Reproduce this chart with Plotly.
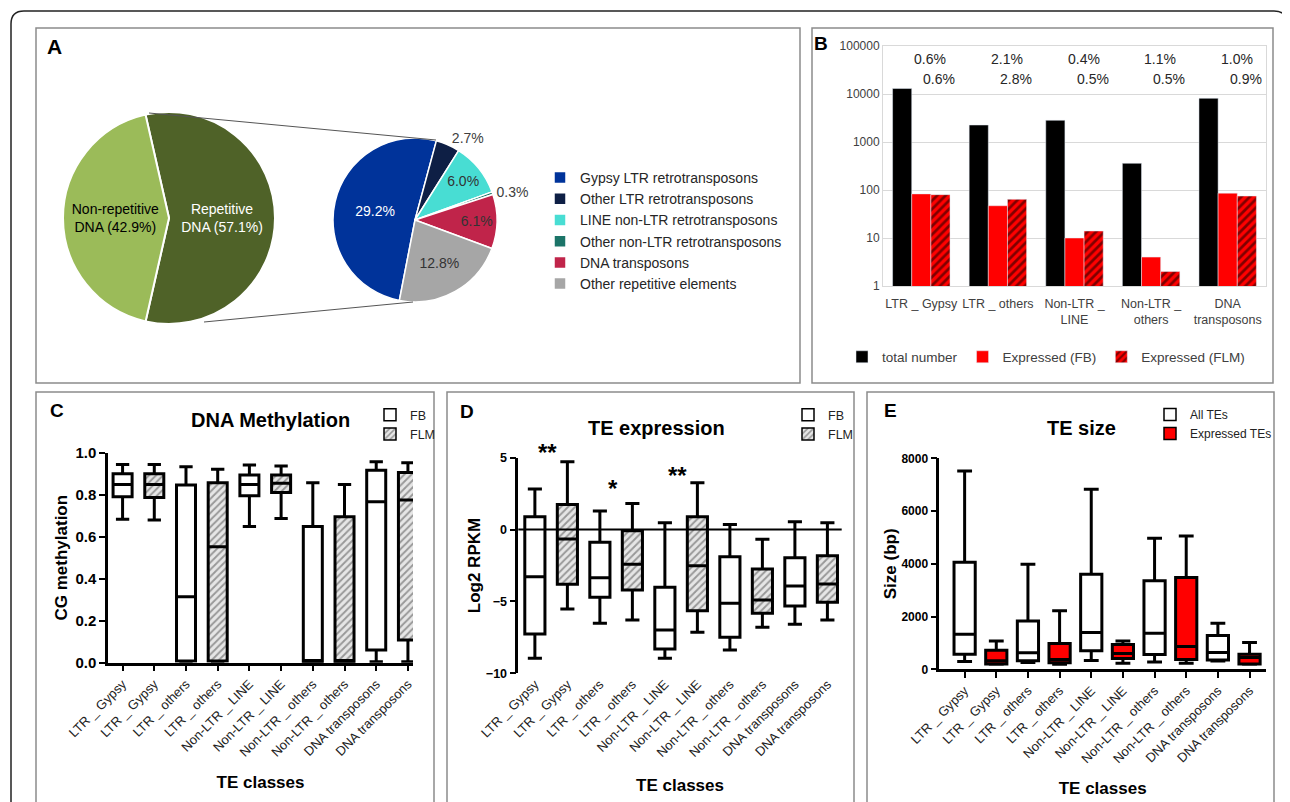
import plotly.graph_objects as go

# The page body adds an 8 px margin, so the figure is drawn 8 px smaller and
# all reference-pixel positions are shifted by that offset.
OFF = 8
W, H = 1290 - OFF, 802 - OFF
def fx(p):
    return (p - OFF) / W
def fy(p):
    return 1 - (p - OFF) / H

FONT = "Liberation Sans, Arial, Helvetica, sans-serif"

# ---------------- Panel A data ----------------
genome_labels = ["Repetitive DNA", "Non-repetitive DNA"]
genome_line1 = ["Repetitive", "Non-repetitive"]
genome_values = [57.1, 42.9]
genome_colors = ["#4F6228", "#9BBB59"]

repeat_labels = ["Gypsy LTR retrotransposons", "Other LTR retrotransposons",
                 "LINE non-LTR retrotransposons", "Other non-LTR retrotransposons",
                 "DNA transposons", "Other repetitive elements"]
repeat_values = [29.2, 2.7, 6.0, 0.3, 6.1, 12.8]
repeat_colors = ["#00339A", "#0E1F45", "#48DDD3", "#1B7468", "#C0244A", "#A6A6A6"]

# ---------------- Panel B data ----------------
b_classes = ["LTR _ Gypsy", "LTR _ others", "Non-LTR _<br>LINE", "Non-LTR _<br>others", "DNA<br>transposons"]
total_number = [13000, 2260, 2830, 360, 8130]
expressed_fb = [83, 47, 10, 4, 86]
expressed_flm = [80, 64, 14, 2, 75]
pct_fb = ["0.6%", "2.1%", "0.4%", "1.1%", "1.0%"]
pct_flm = ["0.6%", "2.8%", "0.5%", "0.5%", "0.9%"]
b_tickvals = [1, 10, 100, 1000, 10000, 100000]
b_ticktext = ["1", "10", "100", "1000", "10000", "100000"]

# ---------------- Panels C-E shared categories ----------------
box_labels = ["LTR _ Gypsy", "LTR _ Gypsy", "LTR _ others", "LTR _ others",
              "Non-LTR _ LINE", "Non-LTR _ LINE", "Non-LTR _ others", "Non-LTR _ others",
              "DNA transposons", "DNA transposons"]
positions = list(range(len(box_labels)))
pos_a = positions[0::2]
pos_b = positions[1::2]

# Panel C: CG methylation (FB / FLM)
meth_fb_lo = [0.683, 0.0, 0.648, 0.0, 0.005]
meth_fb_q1 = [0.790, 0.008, 0.795, 0.005, 0.060]
meth_fb_med = [0.849, 0.314, 0.849, 0.010, 0.767]
meth_fb_q3 = [0.900, 0.846, 0.894, 0.648, 0.917]
meth_fb_hi = [0.944, 0.933, 0.941, 0.857, 0.957]
meth_flm_lo = [0.679, 0.0, 0.687, 0.0, 0.005]
meth_flm_q1 = [0.787, 0.008, 0.811, 0.005, 0.108]
meth_flm_med = [0.849, 0.552, 0.854, 0.010, 0.775]
meth_flm_q3 = [0.900, 0.857, 0.894, 0.695, 0.906]
meth_flm_hi = [0.944, 0.921, 0.937, 0.849, 0.952]

# Panel D: Log2 RPKM (FB / FLM)
expr_fb_lo = [-8.96, -6.52, -8.96, -8.38, -6.59]
expr_fb_q1 = [-7.27, -4.71, -8.31, -7.50, -5.32]
expr_fb_med = [-3.28, -3.35, -6.99, -5.13, -3.93]
expr_fb_q3 = [0.90, -0.89, -4.02, -1.89, -1.96]
expr_fb_hi = [2.82, 1.29, 0.48, 0.36, 0.55]
expr_flm_lo = [-5.53, -6.29, -7.15, -6.80, -6.29]
expr_flm_q1 = [-3.81, -4.20, -5.64, -5.83, -5.06]
expr_flm_med = [-0.66, -2.42, -2.51, -4.90, -3.79]
expr_flm_q3 = [1.75, -0.08, 0.90, -2.74, -1.82]
expr_flm_hi = [4.72, 1.82, 3.26, -0.68, 0.48]
sig_marks = ["**", "*", "**"]
sig_pairs = [0, 1, 2]          # index of the FB/FLM pair
sig_y = [5.35, 2.85, 3.75]

# Panel E: TE size (all / expressed)
size_all_lo = [300, 262, 337, 274, 311]
size_all_q1 = [569, 322, 699, 562, 349]
size_all_med = [1327, 624, 1400, 1365, 637]
size_all_q3 = [4057, 1833, 3602, 3362, 1277]
size_all_hi = [7521, 3982, 6826, 4968, 1744]
size_exp_lo = [190, 190, 225, 225, 190]
size_exp_q1 = [200, 250, 412, 375, 200]
size_exp_med = [322, 375, 600, 860, 450]
size_exp_q3 = [724, 975, 937, 3476, 574]
size_exp_hi = [1074, 2224, 1074, 5056, 1012]

fig = go.Figure()

# ---------------- Panel A ----------------
fig.add_trace(go.Pie(
    labels=genome_labels, values=genome_values,
    text=[f"{a}<br>DNA ({v:.1f}%)" for a, v in zip(genome_line1, genome_values)],
    textinfo="text", textposition="inside", insidetextorientation="horizontal",
    sort=False, direction="clockwise", rotation=-12.8,
    marker=dict(colors=genome_colors, line=dict(color="white", width=2)),
    textfont=dict(size=15, color=["white", "black"], family=FONT),
    domain=dict(x=[fx(63), fx(275)], y=[fy(324), fy(112)]),
    showlegend=False, hoverinfo="label+percent",
))
fig.add_trace(go.Pie(
    labels=repeat_labels, values=repeat_values,
    text=[f"{v:.1f}%" for v in repeat_values],
    textinfo="text",
    textposition=["inside", "outside", "inside", "outside", "inside", "inside"],
    insidetextorientation="horizontal",
    sort=False, direction="clockwise", rotation=191,
    marker=dict(colors=repeat_colors, line=dict(color="white", width=1.5)),
    textfont=dict(size=14, color=["white", "#404040", "#333333", "#404040", "#333333", "#333333"], family=FONT),
    domain=dict(x=[fx(333), fx(497)], y=[fy(302), fy(138)]),
    legend="legend", hoverinfo="label+value",
))

# ---------------- Panel B ----------------
bw = 0.25
fig.add_trace(go.Bar(x=b_classes, y=total_number, name="total number", width=bw, offset=-1.5 * bw,
                     marker=dict(color="black"), xaxis="x", yaxis="y", legend="legend2"))
fig.add_trace(go.Bar(x=b_classes, y=expressed_fb, name="Expressed (FB)", width=bw, offset=-0.5 * bw,
                     marker=dict(color="#FF0000"), xaxis="x", yaxis="y", legend="legend2"))
fig.add_trace(go.Bar(x=b_classes, y=expressed_flm, name="Expressed (FLM)", width=bw, offset=0.5 * bw,
                     marker=dict(color="#FF0000",
                                 pattern=dict(shape="/", fgcolor="black", bgcolor="#FF0000",
                                              size=6, solidity=0.45)),
                     xaxis="x", yaxis="y", legend="legend2"))

# ---------------- Box helper ----------------
def add_box_series(xs, lo, q1, med, q3, hi, name, n, legend, fill, pattern=None, width=0.6):
    xa, ya = f"x{n}", f"y{n}"
    fig.add_trace(go.Bar(
        x=xs, y=[b - a for a, b in zip(q1, q3)], base=q1, width=width, name=name,
        marker=dict(color=fill, pattern=pattern if pattern else dict(shape=""),
                    line=dict(color="black", width=1.5)),
        xaxis=xa, yaxis=ya, legend=legend, hoverinfo="skip"))
    fig.add_trace(go.Box(
        x=xs, q1=q1, median=med, q3=q3, lowerfence=lo, upperfence=hi,
        width=width, whiskerwidth=0.7, fillcolor="rgba(0,0,0,0)",
        line=dict(color="black", width=3), boxpoints=False, showlegend=False,
        xaxis=xa, yaxis=ya, name=name))

hatch = dict(shape="/", fgcolor="#4A4A4A", bgcolor="#E6E6E6", size=5, solidity=0.38)

# Panel C
add_box_series(pos_a, meth_fb_lo, meth_fb_q1, meth_fb_med, meth_fb_q3, meth_fb_hi, "FB", 2, "legend3", "white")
add_box_series(pos_b, meth_flm_lo, meth_flm_q1, meth_flm_med, meth_flm_q3, meth_flm_hi, "FLM", 2, "legend3", "#E6E6E6", hatch)
# Panel D
add_box_series(pos_a, expr_fb_lo, expr_fb_q1, expr_fb_med, expr_fb_q3, expr_fb_hi, "FB", 3, "legend4", "white", width=0.62)
add_box_series(pos_b, expr_flm_lo, expr_flm_q1, expr_flm_med, expr_flm_q3, expr_flm_hi, "FLM", 3, "legend4", "#E6E6E6", hatch, width=0.62)
# Panel E
add_box_series(pos_a, size_all_lo, size_all_q1, size_all_med, size_all_q3, size_all_hi, "All TEs", 4, "legend5", "white", width=0.67)
add_box_series(pos_b, size_exp_lo, size_exp_q1, size_exp_med, size_exp_q3, size_exp_hi, "Expressed TEs", 4, "legend5", "#FF0000", width=0.67)

# ---------------- Axes ----------------
gray_txt = "#404040"
box_x_common = dict(tickvals=positions, ticktext=box_labels, tickangle=-45,
                    tickfont=dict(size=13, color="#222222", family=FONT),
                    showgrid=False, zeroline=False)
ttl_font = dict(size=17, color="black", family=FONT, weight="bold")

D_DOM = [fy(673.3), fy(457.7)]
D_RANGE = [-10, 5]

layout = dict(
    width=W, height=H, margin=dict(l=0, r=0, t=0, b=0, autoexpand=False),
    paper_bgcolor="white", plot_bgcolor="white",
    font=dict(family=FONT, color="black"),
    barmode="overlay",
    uniformtext=dict(minsize=14, mode="show"),
    xaxis=dict(domain=[fx(883), fx(1266)], anchor="y", type="category",
               showline=True, mirror=True, linecolor="#D9D9D9", linewidth=1,
               ticks="", tickangle=0, tickfont=dict(size=12.5, color=gray_txt), ticklabelstandoff=6,
               showgrid=False, zeroline=False),
    yaxis=dict(domain=[fy(286), fy(46)], anchor="x", type="log", range=[0, 5],
               tickvals=b_tickvals, ticktext=b_ticktext,
               showgrid=True, gridcolor="#D9D9D9", gridwidth=1,
               showline=True, mirror=True, linecolor="#D9D9D9", linewidth=1,
               ticks="", tickfont=dict(size=12, color=gray_txt), zeroline=False),
    xaxis2=dict(domain=[fx(108), fx(413)], anchor="y2", range=[-0.46, 9.16],
                ticks="outside", ticklen=6, tickwidth=2, tickcolor="black",
                showline=True, linecolor="black", linewidth=2.5,
                title=dict(text="TE classes", font=ttl_font, standoff=18), **box_x_common),
    yaxis2=dict(domain=[fy(662.7), fy(452.7)], anchor="x2", range=[0, 1], dtick=0.2, tickformat=".1f",
                ticks="outside", ticklen=6, tickwidth=2, tickcolor="black",
                showline=True, linecolor="black", linewidth=2.5, showgrid=False, zeroline=False,
                tickfont=dict(size=15, color="black", family=FONT, weight="bold"),
                title=dict(text="CG methylation", font=ttl_font, standoff=4)),
    xaxis3=dict(domain=[fx(518.3), fx(841.7)], anchor="y3", range=[-0.51, 9.44],
                ticks="", showline=False,
                title=dict(text="TE classes", font=ttl_font, standoff=20), **box_x_common),
    yaxis3=dict(domain=D_DOM, anchor="x3", range=D_RANGE, tickvals=[-10, -5, 0, 5],
                ticks="outside", ticklen=6, tickwidth=2, tickcolor="black",
                showline=True, linecolor="black", linewidth=2.5, showgrid=False, zeroline=False,
                tickfont=dict(size=12.5, color="black", family=FONT, weight="bold"),
                title=dict(text="Log2 RPKM", font=ttl_font, standoff=1)),
    xaxis4=dict(domain=[fx(939.3), fx(1266)], anchor="y4", range=[-0.8, 9.52],
                ticks="outside", ticklen=6, tickwidth=2, tickcolor="black",
                showline=True, linecolor="black", linewidth=2.5,
                title=dict(text="TE classes", font=ttl_font, standoff=17), **box_x_common),
    yaxis4=dict(domain=[fy(669.3), fy(458.3)], anchor="x4", range=[0, 8000], dtick=2000,
                ticks="outside", ticklen=6, tickwidth=2, tickcolor="black",
                showline=True, linecolor="black", linewidth=2.5, showgrid=False, zeroline=False,
                tickfont=dict(size=12, color="black", family=FONT, weight="bold"),
                title=dict(text="Size (bp)", font=ttl_font, standoff=1)),
    legend=dict(x=fx(540), y=fy(231), xanchor="left", yanchor="middle", itemwidth=30,
                font=dict(size=14, color="#262626"), bgcolor="rgba(0,0,0,0)", traceorder="normal"),
    legend2=dict(orientation="h", x=fx(842), y=fy(357), xanchor="left", yanchor="middle", itemwidth=30,
                 font=dict(size=13.5, color=gray_txt), bgcolor="rgba(0,0,0,0)"),
    legend3=dict(x=fx(370), y=fy(400), xanchor="left", yanchor="top", itemwidth=30,
                 font=dict(size=12.5, color="#222222"), bgcolor="rgba(0,0,0,0)", traceorder="normal"),
    legend4=dict(x=fx(788), y=fy(400), xanchor="left", yanchor="top", itemwidth=30,
                 font=dict(size=12.5, color="#222222"), bgcolor="rgba(0,0,0,0)", traceorder="normal"),
    legend5=dict(x=fx(1150), y=fy(400), xanchor="left", yanchor="top", itemwidth=30,
                 font=dict(size=12, color="#222222"), bgcolor="rgba(0,0,0,0)", traceorder="normal"),
)
fig.update_layout(**layout)

# ---------------- Annotations ----------------
ann = []
def paper_text(x, y, text, size, bold=True, color="black"):
    ann.append(dict(x=fx(x), y=fy(y), xref="paper", yref="paper", text=text, showarrow=False,
                    xanchor="center", yanchor="middle",
                    font=dict(size=size, color=color, family=FONT, weight="bold" if bold else "normal")))

paper_text(54, 46.5, "A", 21)
paper_text(820.5, 43.5, "B", 19)
paper_text(56.7, 410, "C", 19)
paper_text(466.7, 411, "D", 19)
paper_text(890, 410, "E", 19)
paper_text(270, 420, "DNA Methylation", 20)
paper_text(656.7, 427.7, "TE expression", 20)
paper_text(1081.7, 427.7, "TE size", 20)

for cat, a, b in zip(b_classes, pct_fb, pct_flm):
    ann.append(dict(x=cat, y=4.73, xref="x", yref="y", text=a, showarrow=False, xshift=9,
                    font=dict(size=14, color="#262626")))
    ann.append(dict(x=cat, y=4.31, xref="x", yref="y", text=b, showarrow=False, xshift=18,
                    font=dict(size=14, color="#262626")))

# significance marks: y given in Log2 RPKM units, converted to paper so marks above the axis top stay visible
for mark, p, yv in zip(sig_marks, sig_pairs, sig_y):
    frac = (yv - D_RANGE[0]) / (D_RANGE[1] - D_RANGE[0])
    ypaper = D_DOM[0] + frac * (D_DOM[1] - D_DOM[0])
    ann.append(dict(x=pos_a[p] + 0.4, y=ypaper, xref="x3", yref="paper", text=mark, showarrow=False,
                    font=dict(size=24, color="black", family=FONT, weight="bold")))

fig.update_layout(annotations=ann)

# ---------------- Shapes: frames, connectors, zero line ----------------
shapes = []
def rect(x0, y0, x1, y1):
    shapes.append(dict(type="rect", xref="paper", yref="paper", x0=fx(x0), y0=fy(y0), x1=fx(x1), y1=fy(y1),
                       line=dict(color="#8C8C8C", width=1.5), fillcolor="rgba(0,0,0,0)", layer="below"))
rect(36, 28, 800, 383)
rect(812, 28, 1273, 383)
rect(36, 392, 434, 815)
rect(447, 392, 854, 815)
rect(867, 392, 1274, 815)

outer = (f"M {fx(11)},{fy(815)} L {fx(11)},{fy(24)} Q {fx(11)},{fy(11)} {fx(24)},{fy(11)} "
         f"L {fx(1274)},{fy(11)} Q {fx(1287)},{fy(11)} {fx(1287)},{fy(24)} L {fx(1287)},{fy(815)}")
shapes.append(dict(type="path", xref="paper", yref="paper", path=outer,
                   line=dict(color="#222222", width=1.5), layer="below"))

for (x0, y0, x1, y1) in [(149, 113, 436, 140), (204, 322, 413, 302)]:
    shapes.append(dict(type="line", xref="paper", yref="paper", x0=fx(x0), y0=fy(y0), x1=fx(x1), y1=fy(y1),
                       line=dict(color="#555555", width=1)))

shapes.append(dict(type="line", xref="x3 domain", yref="y3", x0=0, x1=1, y0=0, y1=0,
                   line=dict(color="black", width=2), layer="above"))
fig.update_layout(shapes=shapes)

fig.write_html("out.html")
